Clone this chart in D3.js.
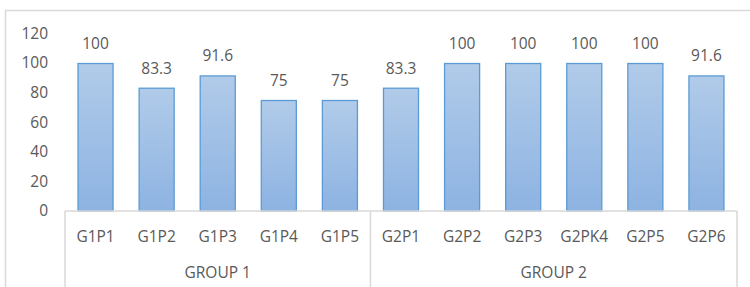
<!DOCTYPE html>
<html><head><meta charset="utf-8">
<script src="https://cdn.jsdelivr.net/npm/d3@7"></script>
<style>body{margin:0;background:#fff}svg{display:block}</style>
</head><body><svg id="c" width="750" height="287"></svg>
<script>
const categories = ["G1P1","G1P2","G1P3","G1P4","G1P5","G2P1","G2P2","G2P3","G2PK4","G2P5","G2P6"];
const values = [100,83.3,91.6,75,75,83.3,100,100,100,100,91.6];
const valueLabels = ["100","83.3","91.6","75","75","83.3","100","100","100","100","91.6"];
const groups = ["GROUP 1","GROUP 2"];
const groupSizes = [5,6];
const yTicks = [0,20,40,60,80,100,120];

const svg = d3.select("#c");
const font = "'Open Sans', sans-serif";
const textCol = "#595959", lineCol = "#d9d9d9";
const left = 65, right = 737, y0 = 211, yTop = 33.4;

const defs = svg.append("defs");
const g = defs.append("linearGradient").attr("id","bg").attr("x1",0).attr("y1",0).attr("x2",0).attr("y2",1);
g.append("stop").attr("offset","0%").attr("stop-color","#b1cbe9");
g.append("stop").attr("offset","100%").attr("stop-color","#8db3e2");

// outer border
svg.append("rect").attr("x",5.5).attr("y",10.5).attr("width",760).attr("height",300)
  .attr("fill","none").attr("stroke",lineCol).attr("stroke-width",1.5);

const x = d3.scaleBand().domain(categories).range([left,right]).paddingInner(0.41).paddingOuter(0.205);
const y = d3.scaleLinear().domain([0,120]).range([y0,yTop]);

// y axis labels
svg.append("g").selectAll("text").data(yTicks).join("text")
  .attr("x",48).attr("y",d=>y(d)).attr("dy","0.35em").attr("text-anchor","end")
  .attr("font-family",font).attr("font-size",15.5).attr("fill",textCol).text(d=>d);

// bars
svg.append("g").selectAll("rect").data(values).join("rect")
  .attr("x",(d,i)=>x(categories[i])+0.5).attr("y",d=>y(d)+0.5)
  .attr("width",x.bandwidth()-1).attr("height",d=>y0-y(d)-0.5)
  .attr("fill","url(#bg)").attr("stroke","#5b9bd5").attr("stroke-width",1.3);

// value labels
svg.append("g").selectAll("text").data(values).join("text")
  .attr("x",(d,i)=>x(categories[i])+x.bandwidth()/2).attr("y",d=>y(d)-14)
  .attr("text-anchor","middle").attr("font-family",font).attr("font-size",15.5).attr("fill",textCol)
  .text((d,i)=>valueLabels[i]);

// category axis box
const step = x.step();
const ax = svg.append("g").attr("stroke",lineCol).attr("stroke-width",1.5);
ax.append("line").attr("x1",left).attr("x2",right).attr("y1",y0).attr("y2",y0);
let cum = 0;
const bounds = [0];
groupSizes.forEach(s=>{cum+=s;bounds.push(cum);});
bounds.forEach(b=>{
  const xx = left + b*step;
  ax.append("line").attr("x1",xx).attr("x2",xx).attr("y1",y0).attr("y2",300);
});

svg.append("g").selectAll("text").data(categories).join("text")
  .attr("x",d=>x(d)+x.bandwidth()/2).attr("y",237).attr("dy","0.35em").attr("text-anchor","middle")
  .attr("font-family",font).attr("font-size",15.5).attr("fill",textCol).text(d=>d);

svg.append("g").selectAll("text").data(groups).join("text")
  .attr("x",(d,i)=>left+(bounds[i]+bounds[i+1])/2*step).attr("y",273).attr("dy","0.35em").attr("text-anchor","middle")
  .attr("font-family",font).attr("font-size",15.5).attr("fill",textCol).text(d=>d);
</script></body></html>
